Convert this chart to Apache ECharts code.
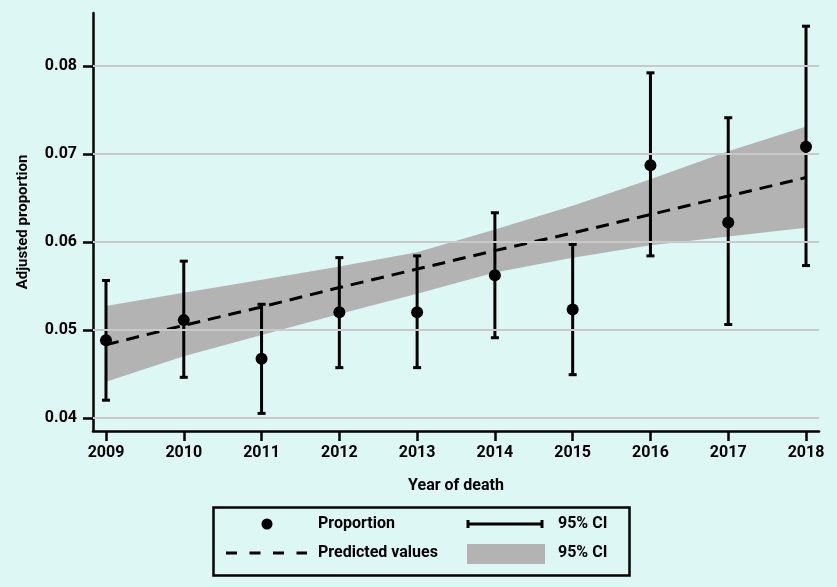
<!DOCTYPE html>
<html>
<head>
<meta charset="utf-8">
<script src="https://cdn.jsdelivr.net/npm/echarts@6/dist/echarts.min.js"></script>
<style>
html,body{margin:0;padding:0;background:#ddf7f4;}
#chart{width:837px;height:587px;}
</style>
</head>
<body>
<div id="chart"></div>
<script>
// ---- data ----
const years = [2009, 2010, 2011, 2012, 2013, 2014, 2015, 2016, 2017, 2018];
const proportion = [0.0488, 0.0511, 0.0467, 0.0520, 0.0520, 0.0562, 0.0523, 0.0687, 0.0622, 0.0708];
const ciLower = [0.0420, 0.0446, 0.0405, 0.0457, 0.0457, 0.0491, 0.0449, 0.0584, 0.0506, 0.0573];
const ciUpper = [0.0556, 0.0578, 0.0529, 0.0582, 0.0584, 0.0633, 0.0597, 0.0792, 0.0741, 0.0845];
const predicted = [0.0483, 0.0505, 0.0526, 0.0548, 0.0569, 0.0590, 0.0610, 0.0631, 0.0652, 0.0673];
const bandLower = [0.0441, 0.0470, 0.0494, 0.0518, 0.0541, 0.0565, 0.0582, 0.0596, 0.0606, 0.0616];
const bandUpper = [0.0527, 0.0542, 0.0557, 0.0572, 0.0588, 0.0614, 0.0641, 0.0671, 0.0703, 0.0731];
const yTicks = [0.04, 0.05, 0.06, 0.07, 0.08];

const FONT = 'Roboto';
const chart = echarts.init(document.getElementById('chart'), null, {renderer: 'canvas'});

const pairs = (a) => years.map((y, i) => [y, a[i]]);

const option = {
  backgroundColor: '#ddf7f4',
  animation: false,
  grid: {left: 93, right: 18, top: 13, bottom: 156, containLabel: false},
  xAxis: {
    type: 'value',
    min: 2008.833, max: 2018.167,
    name: 'Year of death',
    nameLocation: 'middle',
    nameGap: 47,
    nameTextStyle: {fontFamily: FONT, fontWeight: 'bold', fontSize: 16, color: '#000'},
    axisLine: {show: true, onZero: false, lineStyle: {color: '#000', width: 2.5}},
    axisTick: {show: true, length: 10, lineStyle: {color: '#000', width: 2.5}, customValues: years},
    axisLabel: {customValues: years, margin: 14, fontFamily: FONT, fontWeight: 'bold', fontSize: 16, color: '#000',
      formatter: (v) => String(Math.round(v))},
    splitLine: {show: false}
  },
  yAxis: {
    type: 'value',
    min: 0.0385, max: 0.086,
    name: 'Adjusted proportion',
    nameLocation: 'middle',
    nameGap: 62,
    nameTextStyle: {fontFamily: FONT, fontWeight: 'bold', fontSize: 15, color: '#000'},
    axisLine: {show: true, onZero: false, lineStyle: {color: '#000', width: 2.5}},
    axisTick: {show: true, length: 10, lineStyle: {color: '#000', width: 2.5}, customValues: yTicks},
    axisLabel: {customValues: yTicks, margin: 16, fontFamily: FONT, fontWeight: 'bold', fontSize: 16, color: '#000',
      formatter: (v) => v.toFixed(2)},
    splitLine: {show: false}
  },
  series: [
    {
      name: 'grid', type: 'line', data: [], z: 0, silent: true,
      markLine: {
        silent: true, symbol: 'none', animation: false,
        label: {show: false},
        lineStyle: {color: '#c9c9c9', width: 2, type: 'solid'},
        data: yTicks.map(v => ({yAxis: v}))
      }
    },
    {
      name: 'band', type: 'custom', z: 1, silent: true,
      encode: {x: 0, y: [1, 2]},
      data: years.map((y, i) => [y, bandLower[i], bandUpper[i]]),
      renderItem: function (params, api) {
        if (params.dataIndex !== 0) return null;
        const pts = [];
        for (let i = 0; i < years.length; i++) pts.push(api.coord([years[i], bandUpper[i]]));
        for (let i = years.length - 1; i >= 0; i--) pts.push(api.coord([years[i], bandLower[i]]));
        return {type: 'polygon', shape: {points: pts}, style: {fill: '#b3b3b3', stroke: null}};
      }
    },
    {
      name: 'Predicted values', type: 'line', symbol: 'none', z: 3,
      lineStyle: {color: '#000', width: 3, type: [13, 8]},
      data: pairs(predicted)
    },
    {
      name: '95% CI', type: 'custom', z: 4,
      encode: {x: 0, y: [1, 2]},
      data: years.map((y, i) => [y, ciLower[i], ciUpper[i]]),
      renderItem: function (params, api) {
        const x = api.value(0);
        const lo = api.coord([x, api.value(1)]);
        const hi = api.coord([x, api.value(2)]);
        const cw = 4;
        const st = {stroke: '#000', lineWidth: 3};
        return {
          type: 'group',
          children: [
            {type: 'line', shape: {x1: lo[0], y1: lo[1], x2: hi[0], y2: hi[1]}, style: st},
            {type: 'line', shape: {x1: lo[0] - cw, y1: lo[1], x2: lo[0] + cw, y2: lo[1]}, style: st},
            {type: 'line', shape: {x1: hi[0] - cw, y1: hi[1], x2: hi[0] + cw, y2: hi[1]}, style: st}
          ]
        };
      }
    },
    {
      name: 'Proportion', type: 'scatter', z: 5,
      symbol: 'circle', symbolSize: 12,
      itemStyle: {color: '#000', opacity: 1},
      data: pairs(proportion)
    }
  ],
  graphic: [
    {type: 'rect', left: 211, top: 505, shape: {width: 416, height: 68},
      style: {fill: 'none', stroke: '#000', lineWidth: 2.5}},
    {type: 'circle', shape: {cx: 267, cy: 524, r: 5.5}, style: {fill: '#000'}},
    {type: 'text', x: 318, y: 524, style: {text: 'Proportion', fill: '#000', font: 'bold 16px ' + FONT, verticalAlign: 'middle'}},
    {type: 'line', shape: {x1: 467, y1: 524, x2: 543, y2: 524}, style: {stroke: '#000', lineWidth: 3}},
    {type: 'line', shape: {x1: 468, y1: 520, x2: 468, y2: 528}, style: {stroke: '#000', lineWidth: 3}},
    {type: 'line', shape: {x1: 542, y1: 520, x2: 542, y2: 528}, style: {stroke: '#000', lineWidth: 3}},
    {type: 'text', x: 558, y: 524, style: {text: '95% CI', fill: '#000', font: 'bold 16px ' + FONT, verticalAlign: 'middle'}},
    {type: 'line', shape: {x1: 226, y1: 553, x2: 307, y2: 553}, style: {stroke: '#000', lineWidth: 3, lineDash: [11, 12.5]}},
    {type: 'text', x: 318, y: 553, style: {text: 'Predicted values', fill: '#000', font: 'bold 16px ' + FONT, verticalAlign: 'middle'}},
    {type: 'rect', shape: {x: 467, y: 544, width: 78, height: 20}, style: {fill: '#b3b3b3'}},
    {type: 'text', x: 558, y: 553, style: {text: '95% CI', fill: '#000', font: 'bold 16px ' + FONT, verticalAlign: 'middle'}}
  ]
};
chart.setOption(option);
</script>
</body>
</html>
